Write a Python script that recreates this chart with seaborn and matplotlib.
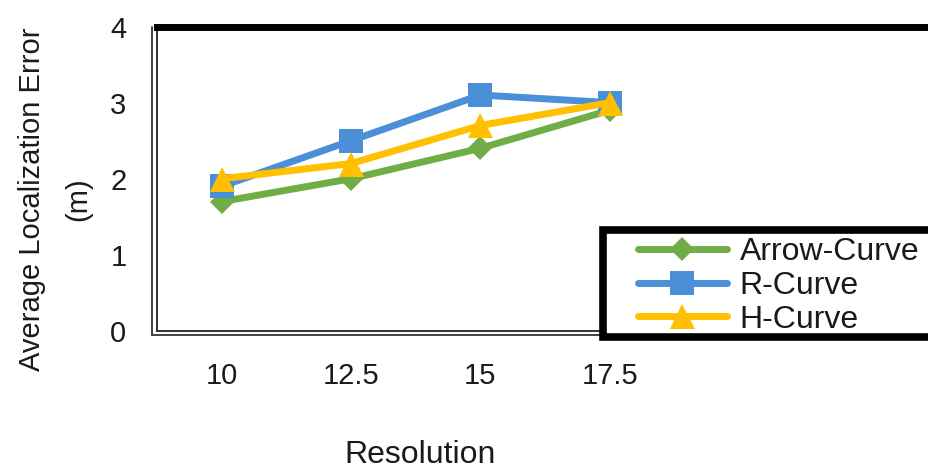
import numpy as np
import pandas as pd
import matplotlib
matplotlib.use("Agg")
import matplotlib.pyplot as plt
from matplotlib.lines import Line2D
from matplotlib.patches import Rectangle
from matplotlib.transforms import ScaledTranslation
import seaborn as sns

# Resolution categories and average localization error (m) per curve type
resolutions = ["10", "12.5", "15", "17.5"]
arrow_curve = [1.7, 2.0, 2.4, 2.9]
r_curve = [1.9, 2.5, 3.1, 3.0]
h_curve = [2.0, 2.2, 2.7, 3.0]
series_names = ["Arrow-Curve", "R-Curve", "H-Curve"]
y_ticks = [0, 1, 2, 3, 4]

sns.set_theme(style="white")
plt.rcParams["font.family"] = ["Liberation Sans", "DejaVu Sans"]

W, H = 929, 470
fig = plt.figure(figsize=(W / 100, H / 100), dpi=100)

# plot area in pixel terms (left, bottom, right, top)
left_px, right_px, top_px, bottom_px = 157, 935, 26.5, 331
ax = fig.add_axes([left_px / W, 1 - bottom_px / H,
                   (right_px - left_px) / W, (bottom_px - top_px) / H])

pos = np.arange(len(resolutions))
df = pd.DataFrame({
    "pos": np.tile(pos, 3),
    "value": arrow_curve + r_curve + h_curve,
    "series": np.repeat(series_names, len(resolutions)),
})

styles = {
    "Arrow-Curve": dict(color="#70AD47", marker="D", markersize=12),
    "R-Curve": dict(color="#4A8FD8", marker="s", markersize=17),
    "H-Curve": dict(color="#FFC000", marker="^", markersize=18),
}
for name in series_names:
    sub = df[df["series"] == name]
    st = styles[name]
    sns.lineplot(data=sub, x="pos", y="value", ax=ax, label=name,
                 color=st["color"], marker=st["marker"],
                 markersize=st["markersize"], markeredgewidth=0,
                 linewidth=5, legend=False)

ax.set_xlim(-0.5, (right_px - 222) / 129.3)
ax.set_ylim(0, 4)
ax.set_xticks(pos)
ax.set_xticklabels(resolutions)
ax.set_yticks(y_ticks)
ax.tick_params(axis="both", length=0, labelsize=21, colors="#1a1a1a")
ax.tick_params(axis="x", pad=22)
ax.tick_params(axis="y", pad=22)

# borders: heavy top, thin double left/bottom
ax.spines["right"].set_visible(False)
ax.spines["top"].set_linewidth(5)
ax.spines["top"].set_color("black")
for side in ["left", "bottom"]:
    ax.spines[side].set_linewidth(1.3)
    ax.spines[side].set_color("#222222")
off_left = ax.transAxes + ScaledTranslation(-4.5 / 100, 0, fig.dpi_scale_trans)
off_bottom = ax.transAxes + ScaledTranslation(0, -4 / 100, fig.dpi_scale_trans)
ax.add_line(Line2D([0, 0], [-0.013, 1.0], transform=off_left, color="#333333",
                   linewidth=1.3, clip_on=False))
ax.add_line(Line2D([-0.006, 1.0], [0, 0], transform=off_bottom, color="#333333",
                   linewidth=1.3, clip_on=False))

ax.set_xlabel("Resolution", fontsize=23, color="#1a1a1a")
ax.xaxis.set_label_coords((420 - left_px) / (right_px - left_px),
                          (bottom_px - 440) / (bottom_px - top_px))
ax.xaxis.label.set_va("top")
ax.set_ylabel("Average Localization Error\n(m)", fontsize=21,
              color="#1a1a1a", linespacing=1.8)
ax.yaxis.set_label_coords((92 - left_px) / (right_px - left_px),
                          (bottom_px - 199) / (bottom_px - top_px))

# legend box with heavy frame
box = Rectangle((603 / W, 1 - 337 / H), (945 - 603) / W, (337 - 230) / H,
                transform=fig.transFigure, facecolor="white",
                edgecolor="black", linewidth=5.5, zorder=3)
fig.add_artist(box)
handles, labels = ax.get_legend_handles_labels()
fig.legend(handles, labels, loc="upper left",
           bbox_to_anchor=(638 / W, 1 - 237 / H), frameon=False,
           fontsize=23, borderpad=0, borderaxespad=0, labelspacing=0.12,
           handlelength=2.78, handletextpad=0.4, labelcolor="#1a1a1a")

fig.savefig("out.png", dpi=100)
